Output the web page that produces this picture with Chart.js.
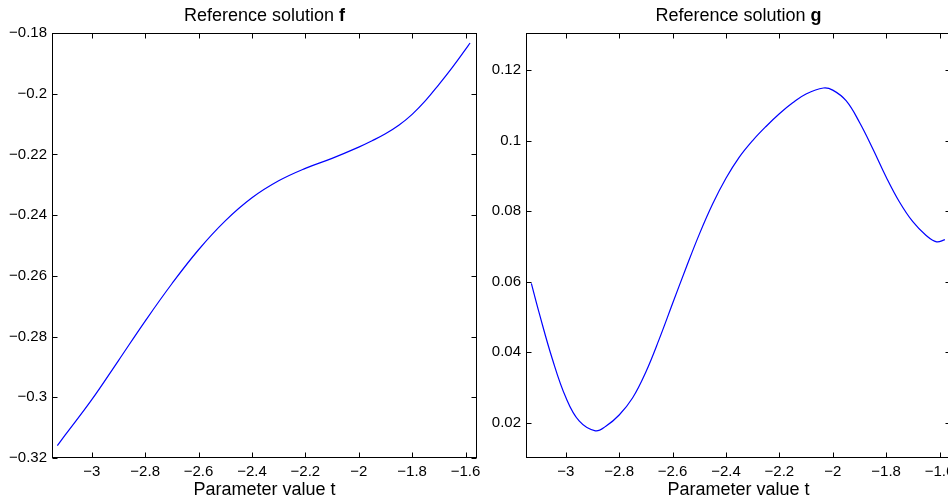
<!DOCTYPE html>
<html>
<head>
<meta charset="utf-8">
<script src="https://cdn.jsdelivr.net/npm/chart.js@4.4.0/dist/chart.umd.min.js"></script>
<style>
html,body{margin:0;padding:0;background:#fff;overflow:hidden}
#wrap{position:relative;width:948px;height:501px;overflow:hidden}
canvas{position:absolute;top:0}
</style>
</head>
<body>
<div id="wrap">
  <canvas id="cf" width="500" height="501" style="left:0"></canvas>
  <canvas id="cg" width="500" height="501" style="left:474px"></canvas>
</div>
<script>
// values
const tF=[-3.129,-3.1,-3.0,-2.9,-2.8,-2.7,-2.6,-2.5,-2.4,-2.3,-2.2,-2.1,-2.0,-1.95,-1.9,-1.85,-1.8,-1.75,-1.7,-1.65,-1.6,-1.583];
const fVals=[-0.3159,-0.3125,-0.3008,-0.2879,-0.2749,-0.2626,-0.2514,-0.2419,-0.2343,-0.2287,-0.2246,-0.2213,-0.2176,-0.2155,-0.2132,-0.2104,-0.2068,-0.2023,-0.1970,-0.1914,-0.1854,-0.1833];

const tG=[-3.129,-3.1,-3.05,-3.0,-2.95,-2.889,-2.85,-2.8,-2.75,-2.7,-2.65,-2.6,-2.55,-2.5,-2.45,-2.4,-2.35,-2.3,-2.25,-2.2,-2.15,-2.1,-2.035,-2.0,-1.95,-1.9,-1.85,-1.8,-1.75,-1.7,-1.65,-1.611,-1.58];
const gVals=[0.0595,0.0512,0.0380,0.0272,0.0205,0.0177,0.0190,0.0222,0.0270,0.0344,0.0437,0.0538,0.0638,0.0734,0.0820,0.0893,0.0953,0.1000,0.1040,0.1076,0.1107,0.1132,0.1149,0.1143,0.1113,0.1052,0.0977,0.0897,0.0826,0.0770,0.0731,0.0713,0.0719];

const xTicks=[-3,-2.8,-2.6,-2.4,-2.2,-2,-1.8,-1.6];
const yTicksF=[-0.32,-0.3,-0.28,-0.26,-0.24,-0.22,-0.2,-0.18];
const yTicksG=[0.02,0.04,0.06,0.08,0.1,0.12];
const xRange=[-3.149,-1.557];
const yRangeF=[-0.32,-0.18];
const yRangeG=[0.01,0.1305];

const FONT='"Liberation Sans", Arial, Helvetica, sans-serif';
const fmt=v=>String(+(+v).toFixed(3)).replace('-','\u2212');

// box, inward ticks on all sides, title and x label (MATLAB look)
const frame={id:'frame',afterDraw(ch,args,o){
  const {ctx,chartArea:a,scales:{x,y}}=ch;
  const L=Math.round(a.left)+.5, R=Math.round(a.right)-.5, T=Math.round(a.top)+.5, B=Math.round(a.bottom)-.5;
  ctx.save();
  ctx.strokeStyle='#000'; ctx.lineWidth=1;
  ctx.strokeRect(L,T,R-L,B-T);
  ctx.beginPath();
  for(const v of xTicks){ const p=Math.round(x.getPixelForValue(v))+.5; ctx.moveTo(p,B); ctx.lineTo(p,B-5); ctx.moveTo(p,T); ctx.lineTo(p,T+5); }
  for(const v of o.yTicks){ const p=Math.round(y.getPixelForValue(v))+.5; ctx.moveTo(L,p); ctx.lineTo(L+5,p); ctx.moveTo(R,p); ctx.lineTo(R-5,p); }
  ctx.stroke();
  const cx=(a.left+a.right)/2;
  ctx.fillStyle='#000'; ctx.textBaseline='alphabetic';
  ctx.font='18px '+FONT; const w1=ctx.measureText(o.title).width;
  ctx.font='bold 18px '+FONT; const w2=ctx.measureText(o.bold).width;
  let sx=cx-(w1+w2)/2;
  ctx.textAlign='left';
  ctx.font='18px '+FONT; ctx.fillText(o.title,sx,21);
  ctx.font='bold 18px '+FONT; ctx.fillText(o.bold,sx+w1,21);
  ctx.font='18px '+FONT; ctx.textAlign='center';
  ctx.fillText('Parameter value t',cx,495);
  ctx.restore();
}};

function makeChart(id,tArr,vArr,yRange,yTicks,bold){
  return new Chart(document.getElementById(id),{
    type:'line',
    data:{datasets:[{data:tArr.map((t,i)=>({x:t,y:vArr[i]})),borderColor:'#0000ff',borderWidth:1.2,pointRadius:0,tension:0.4,fill:false}]},
    options:{
      responsive:false,animation:false,devicePixelRatio:1,
      layout:{padding:{top:33,right:23,left:0,bottom:0}},
      plugins:{legend:{display:false},tooltip:{enabled:false},title:{display:false},
        frame:{title:'Reference solution ',bold:bold,yTicks:yTicks}},
      scales:{
        x:{type:'linear',min:xRange[0],max:xRange[1],
          afterBuildTicks:s=>{s.ticks=xTicks.map(v=>({value:v}));},
          afterFit:s=>{s.height=43;},
          grid:{display:false,drawTicks:false},border:{display:false},
          ticks:{padding:5,color:'#000',font:{family:FONT,size:15},callback:fmt,maxRotation:0,autoSkip:false}},
        y:{type:'linear',min:yRange[0],max:yRange[1],
          afterBuildTicks:s=>{s.ticks=yTicks.map(v=>({value:v}));},
          afterFit:s=>{s.width=52;},
          grid:{display:false,drawTicks:false},border:{display:false},
          ticks:{padding:5,color:'#000',font:{family:FONT,size:15},callback:fmt,autoSkip:false}}
      }
    },
    plugins:[frame]
  });
}

makeChart('cf',tF,fVals,yRangeF,yTicksF,'f');
makeChart('cg',tG,gVals,yRangeG,yTicksG,'g');
</script>
</body>
</html>
